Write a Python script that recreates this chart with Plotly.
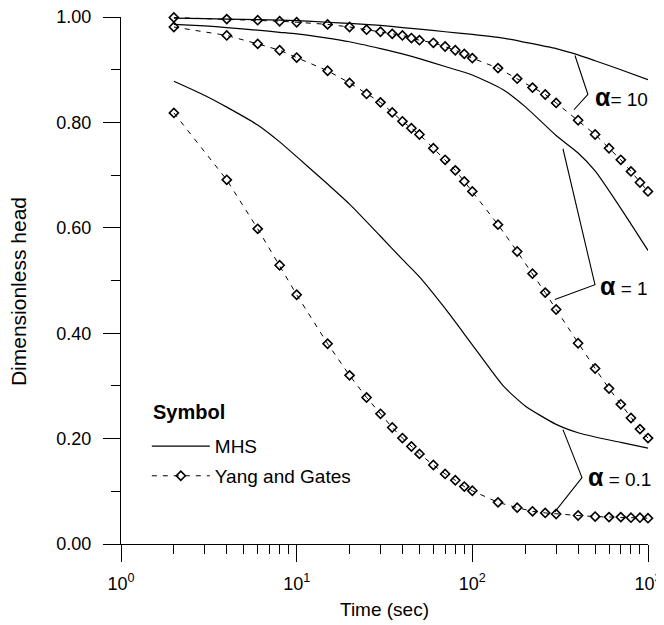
import plotly.graph_objects as go

# ---------------- data ----------------
# Yang and Gates (symbols, dashed)
t_yg = [2, 4, 6, 8, 10, 15, 20, 25, 30, 35, 40, 45, 50, 60, 70, 80, 90, 100,
        140, 180, 220, 260, 300, 400, 500, 600, 700, 800, 900, 1000]
yg_a10 = [0.999, 0.996, 0.994, 0.992, 0.990, 0.986, 0.981, 0.976, 0.972, 0.968,
          0.965, 0.960, 0.956, 0.951, 0.944, 0.937, 0.930, 0.922,
          0.903, 0.883, 0.866, 0.853, 0.837, 0.804, 0.777, 0.751, 0.729, 0.707, 0.686, 0.669]
yg_a1 = [0.981, 0.965, 0.949, 0.937, 0.923, 0.898, 0.875, 0.854, 0.838, 0.819,
         0.802, 0.789, 0.777, 0.751, 0.729, 0.709, 0.688, 0.669,
         0.606, 0.555, 0.513, 0.477, 0.445, 0.381, 0.333, 0.295, 0.265, 0.239, 0.218, 0.201]
yg_a01 = [0.818, 0.691, 0.598, 0.529, 0.473, 0.380, 0.320, 0.278, 0.247, 0.221,
          0.201, 0.185, 0.171, 0.150, 0.133, 0.121, 0.109, 0.101,
          0.079, 0.069, 0.062, 0.059, 0.057, 0.054, 0.052, 0.051, 0.051, 0.050, 0.050, 0.049]

# MHS (solid)
t_mhs = [2, 3, 4, 6, 8, 10, 15, 20, 30, 40, 50, 70, 100, 150, 200, 300, 400, 500, 700, 1000]
mhs_a10 = [0.998, 0.997, 0.996, 0.995, 0.994, 0.993, 0.990, 0.988, 0.984, 0.980,
           0.977, 0.972, 0.967, 0.960, 0.952, 0.940, 0.928, 0.917, 0.900, 0.881]
mhs_a1 = [0.986, 0.983, 0.980, 0.975, 0.971, 0.968, 0.960, 0.953, 0.940, 0.930,
          0.921, 0.906, 0.890, 0.862, 0.830, 0.775, 0.742, 0.708, 0.637, 0.557]
mhs_a01 = [0.878, 0.851, 0.829, 0.795, 0.763, 0.735, 0.683, 0.645, 0.584, 0.540,
           0.507, 0.447, 0.378, 0.300, 0.262, 0.227, 0.211, 0.203, 0.193, 0.182]

# leader lines for the alpha labels
lead10_t, lead10_h = [384, 455, 379], [0.927, 0.853, 0.824]
lead1_t, lead1_h = [328, 499, 295], [0.750, 0.492, 0.464]
lead01_t, lead01_h = [328, 421, 295], [0.217, 0.126, 0.061]

x_tickvals = [1, 10, 100, 1000]
x_ticktext = ["10<sup>0</sup>", "10<sup>1</sup>", "10<sup>2</sup>", "10<sup>3</sup>"]
x_minor = [2, 3, 4, 5, 6, 7, 8, 9, 20, 30, 40, 50, 60, 70, 80, 90,
           200, 300, 400, 500, 600, 700, 800, 900]
y_tickvals = [0.0, 0.2, 0.4, 0.6, 0.8, 1.0]
y_minor = [0.1, 0.3, 0.5, 0.7, 0.9]

FONT = "Liberation Sans, Arial, sans-serif"

fig = go.Figure()

for i, yv in enumerate([mhs_a10, mhs_a1, mhs_a01]):
    fig.add_trace(go.Scatter(
        x=t_mhs, y=yv, mode="lines", name="MHS",
        line=dict(color="black", width=1.2, shape="spline", smoothing=0.6),
        legendgroup="mhs", showlegend=(i == 0)))

for i, yv in enumerate([yg_a10, yg_a1, yg_a01]):
    fig.add_trace(go.Scatter(
        x=t_yg, y=yv, mode="lines+markers", name="Yang and Gates",
        line=dict(color="black", width=1, dash="5px,6px"),
        marker=dict(symbol="diamond-open", size=7, color="black",
                    line=dict(color="black", width=1.6)),
        cliponaxis=False,
        legendgroup="yg", showlegend=(i == 0)))

for lt, lh in [(lead10_t, lead10_h), (lead1_t, lead1_h), (lead01_t, lead01_h)]:
    fig.add_trace(go.Scatter(x=lt, y=lh, mode="lines",
                             line=dict(color="black", width=1.1),
                             showlegend=False, hoverinfo="skip"))

def alpha_label(rest, x, y):
    fig.add_annotation(
        text="<span style='font-size:25px'><b>α</b></span>" + rest,
        xref="paper", yref="paper", x=x, y=y, xanchor="right", yanchor="middle",
        showarrow=False, font=dict(family=FONT, size=19, color="black"))

alpha_label("= 10", 1.0038, 0.848)
alpha_label(" = 1", 1.0038, 0.4896)
alpha_label(" = 0.1", 1.0095, 0.127)

# legend heading
fig.add_annotation(
    text="<b>Symbol</b>", xref="paper", yref="paper", x=0.057, y=0.2505,
    xanchor="left", yanchor="middle", showarrow=False,
    font=dict(family=FONT, size=20, color="black"))

# y-axis title
fig.add_annotation(
    text="Dimensionless head", xref="paper", yref="paper", x=-0.1954, y=0.478,
    xanchor="center", yanchor="middle", textangle=-90, showarrow=False,
    font=dict(family=FONT, size=21, color="black"))

fig.update_xaxes(
    type="log", range=[0, 3],
    tickmode="array", tickvals=x_tickvals, ticktext=x_ticktext,
    ticks="outside", ticklen=17, tickwidth=1.3, tickcolor="black",
    minor=dict(tickmode="array", tickvals=x_minor, ticks="outside",
               ticklen=9, tickwidth=1.3, tickcolor="black", showgrid=False),
    showline=True, linecolor="black", linewidth=1.3,
    showgrid=False, zeroline=False,
    tickfont=dict(family=FONT, size=18, color="black"),
    ticklabelstandoff=6, ticklabeloverflow="allow",
    title=dict(text="Time (sec)", font=dict(family=FONT, size=19, color="black"),
               standoff=9),
)
fig.update_yaxes(
    range=[0, 1],
    tickmode="array", tickvals=y_tickvals, tickformat=".2f",
    ticks="outside", ticklen=17, tickwidth=1.3, tickcolor="black",
    minor=dict(tickmode="array", tickvals=y_minor, ticks="outside",
               ticklen=9, tickwidth=1.3, tickcolor="black", showgrid=False),
    showline=True, linecolor="black", linewidth=1.3,
    showgrid=False, zeroline=False,
    tickfont=dict(family=FONT, size=18, color="black"),
    ticklabelstandoff=8, ticklabeloverflow="allow",
)

# the page adds an 8px body margin, so the figure is 8px smaller than the window
fig.update_layout(
    width=656, height=617,
    margin=dict(l=113, r=16, t=9, b=81, autoexpand=False),
    paper_bgcolor="white", plot_bgcolor="white",
    font=dict(family=FONT, color="black"),
    showlegend=True,
    legend=dict(
        x=0.049, y=0.2216, xanchor="left", yanchor="top",
        bgcolor="rgba(0,0,0,0)", borderwidth=0,
        font=dict(family=FONT, size=19, color="black"),
        itemwidth=58, tracegroupgap=2,
    ),
)

fig.write_html("out.html")
